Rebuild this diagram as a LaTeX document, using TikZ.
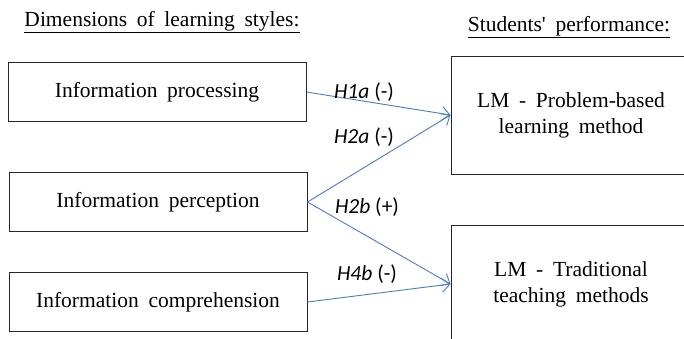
\documentclass[tikz,border=0pt]{standalone}
\usepackage{fontspec}
\setmainfont{Liberation Serif}[WordSpace=1.8]
\newfontfamily\labelfont{Carlito}
\usetikzlibrary{arrows.meta}
\definecolor{linkblue}{HTML}{4A7CC0}
\definecolor{boxline}{HTML}{262626}
\tikzset{
  x=1pt, y=-1pt,
  dimbox/.style={draw=boxline, line width=1pt, minimum width=298pt, minimum height=59pt,
    inner sep=0pt, font=\fontsize{21.5}{24}\selectfont},
  perfbox/.style={draw=boxline, line width=1pt, minimum width=240pt, minimum height=118pt,
    inner sep=0pt, align=center, font=\fontsize{21.5}{26}\selectfont},
  heading/.style={inner sep=0pt, font=\fontsize{21.5}{24}\selectfont},
  link/.style={draw=linkblue, line width=0.9pt, -{Straight Barb[length=8pt,width=14pt,line width=0.9pt]}},
  hyp/.style={inner sep=0pt, font=\labelfont\fontsize{21.5}{24}\selectfont},
}
\begin{document}
\begin{tikzpicture}
\useasboundingbox (0,0) rectangle (684,338);
\clip (0,0) rectangle (684,338);

% headings
\node[heading] (hleft) at (162,22) {\underline{Dimensions of learning styles:}};
\node[heading] (hright) at (569,27) {\underline{Students\textquotesingle\ performance:}};

% learning-style dimensions
\node[dimbox] (proc) at (157,92) {Information processing};
\node[dimbox] (perc) at (158,202) {Information perception};
\node[dimbox] (comp) at (158,302) {Information comprehension};

% performance outcomes (boxes run past the right edge)
\node[perfbox] (pbl) at (571,115) {LM - Problem-based\\learning method};
\node[perfbox] (trad) at (571,284) {LM - Traditional\\teaching methods};

% hypothesised links
\draw[link] (proc.east) -- (pbl.west);
\draw[link] (perc.east) -- (pbl.west);
\draw[link] (perc.east) -- (trad.west);
\draw[link] (comp.east) -- (trad.west);

% link labels
\node[hyp] (l1) at (364,92) {\textit{H1a} (-)};
\node[hyp] (l2) at (364,137) {\textit{H2a} (-)};
\node[hyp] (l3) at (367,207) {\textit{H2b} (+)};
\node[hyp] (l4) at (367,274) {\textit{H4b} (-)};
\end{tikzpicture}
\end{document}
